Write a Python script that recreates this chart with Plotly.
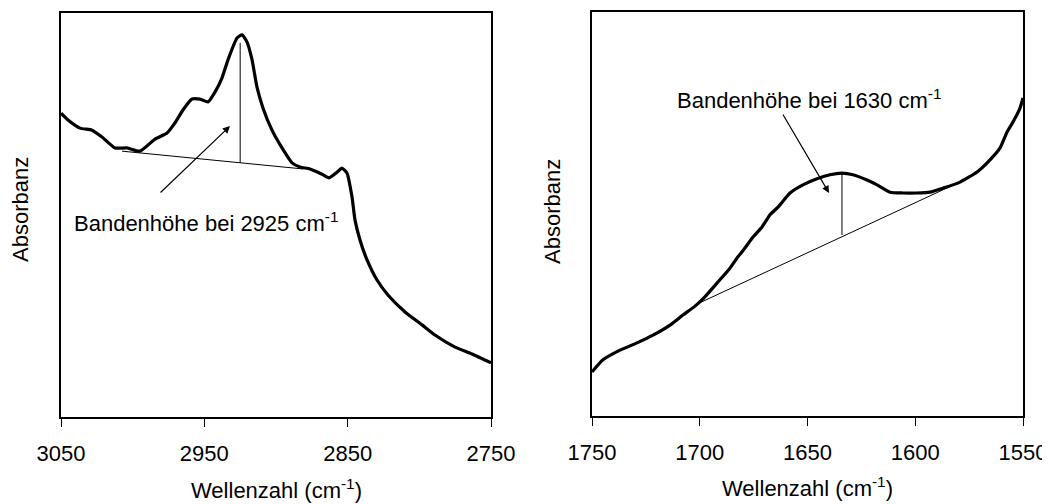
import plotly.graph_objects as go

# Left panel: C-H stretching region
left_wn = [3050, 3045.1, 3036.7, 3028.4, 3021.4, 3012.3, 3004.0, 2994.9, 2984.4, 2976.0,
           2970.5, 2964.9, 2958.6, 2953.0, 2947.4, 2942.6, 2937.7, 2933.5, 2927.2, 2923.7,
           2920.2, 2916.7, 2913.3, 2909.1, 2902.8, 2895.8, 2888.8, 2883.3, 2876.3, 2867.9,
           2863.0, 2857.4, 2854.0, 2850.5, 2847.0, 2844.9, 2841.4, 2836.5, 2829.5, 2821.9,
           2810.0, 2798.1, 2789.1, 2775.1, 2763.3, 2750]
left_abs = [0.752, 0.735, 0.715, 0.710, 0.693, 0.666, 0.666, 0.658, 0.688, 0.703,
            0.728, 0.760, 0.787, 0.787, 0.780, 0.804, 0.839, 0.884, 0.938, 0.946,
            0.928, 0.884, 0.817, 0.765, 0.710, 0.666, 0.629, 0.619, 0.614, 0.601,
            0.592, 0.606, 0.616, 0.604, 0.545, 0.488, 0.438, 0.389, 0.339, 0.302,
            0.260, 0.228, 0.203, 0.173, 0.156, 0.134]
left_base_wn = [3007.4, 2881.2]
left_base_abs = [0.658, 0.614]
left_band_wn = [2925, 2925]
left_band_abs = [0.629, 0.926]
left_arrow = {"tail": (2981.6, 0.552), "head": (2932.1, 0.720)}
left_label = "Bandenhöhe bei 2925 cm<sup>-1</sup>"
left_ticks = [3050, 2950, 2850, 2750]

# Right panel: amide / water region
right_wn = [1750.0, 1744.9, 1737.0, 1729.1, 1721.7, 1713.8, 1707.8, 1702.2, 1697.6, 1691.5,
            1686.0, 1682.7, 1679.0, 1675.3, 1671.1, 1667.4, 1663.7, 1658.1, 1652.1, 1645.6,
            1639.6, 1634.0, 1628.9, 1622.4, 1617.7, 1611.7, 1605.7, 1599.2, 1593.2, 1587.1,
            1579.2, 1571.3, 1565.3, 1560.7, 1557.4, 1554.6, 1551.4, 1550.0]
right_abs = [0.109, 0.139, 0.163, 0.181, 0.200, 0.225, 0.250, 0.272, 0.295, 0.332,
             0.366, 0.391, 0.416, 0.443, 0.468, 0.498, 0.517, 0.552, 0.572, 0.587,
             0.597, 0.601, 0.597, 0.584, 0.572, 0.554, 0.552, 0.552, 0.554, 0.564,
             0.579, 0.604, 0.634, 0.663, 0.703, 0.728, 0.762, 0.787]
right_base_wn = [1701.3, 1580.2]
right_base_abs = [0.277, 0.577]
right_band_wn = [1634, 1634]
right_band_abs = [0.448, 0.601]
right_arrow = {"tail": (1661.8, 0.750), "head": (1640.0, 0.552)}
right_label = "Bandenhöhe bei 1630 cm<sup>-1</sup>"
right_ticks = [1750, 1700, 1650, 1600, 1550]

FONT = "Liberation Sans, Arial, sans-serif"
FS = 22
OFF = 8                      # page body margin
W, H = 1050 - OFF, 504 - OFF


def px(x):
    return (x - OFF) / W


def py(y):
    return (H - (y - OFF)) / H


fig = go.Figure()
thick = dict(color="black", width=3.2, shape="spline", smoothing=0.5)
thin = dict(color="black", width=1)

fig.add_trace(go.Scatter(x=left_wn, y=left_abs, mode="lines", line=thick, xaxis="x", yaxis="y"))
fig.add_trace(go.Scatter(x=left_base_wn, y=left_base_abs, mode="lines", line=thin, xaxis="x", yaxis="y"))
fig.add_trace(go.Scatter(x=left_band_wn, y=left_band_abs, mode="lines", line=thin, xaxis="x", yaxis="y"))
fig.add_trace(go.Scatter(x=right_wn, y=right_abs, mode="lines", line=thick, xaxis="x2", yaxis="y2"))
fig.add_trace(go.Scatter(x=right_base_wn, y=right_base_abs, mode="lines", line=thin, xaxis="x2", yaxis="y2"))
fig.add_trace(go.Scatter(x=right_band_wn, y=right_band_abs, mode="lines", line=thin, xaxis="x2", yaxis="y2"))

axis_common = dict(showline=True, linecolor="black", linewidth=1.5, mirror=True,
                   showgrid=False, zeroline=False, automargin=False,
                   tickfont=dict(family=FONT, size=FS, color="black"))

fig.update_layout(
    template="none",
    width=W, height=H, showlegend=False,
    paper_bgcolor="white", plot_bgcolor="white",
    margin=dict(l=0, r=0, t=0, b=0, pad=0, autoexpand=False),
    xaxis=dict(domain=[px(61), px(491)], range=[3050, 2750], tickvals=left_ticks,
               ticks="outside", ticklen=8, tickcolor="black", tickwidth=1, ticklabelstandoff=8,
               anchor="y", **axis_common),
    yaxis=dict(domain=[py(417), py(13)], range=[0, 1], showticklabels=False,
               ticks="", anchor="x", **axis_common),
    xaxis2=dict(domain=[px(592), px(1023)], range=[1750, 1550], tickvals=right_ticks,
                ticks="outside", ticklen=8, tickcolor="black", tickwidth=1, ticklabelstandoff=8,
                anchor="y2", **axis_common),
    yaxis2=dict(domain=[py(416), py(12)], range=[0, 1], showticklabels=False,
                ticks="", anchor="x2", **axis_common),
)

af = dict(family=FONT, size=FS, color="black")
annotations = [
    # arrows
    dict(x=left_arrow["head"][0], y=left_arrow["head"][1], ax=left_arrow["tail"][0], ay=left_arrow["tail"][1],
         xref="x", yref="y", axref="x", ayref="y", showarrow=True, arrowhead=2, arrowsize=1.2,
         arrowwidth=1.2, arrowcolor="black", text=""),
    dict(x=right_arrow["head"][0], y=right_arrow["head"][1], ax=right_arrow["tail"][0], ay=right_arrow["tail"][1],
         xref="x2", yref="y2", axref="x2", ayref="y2", showarrow=True, arrowhead=2, arrowsize=1.2,
         arrowwidth=1.2, arrowcolor="black", text=""),
    # band labels
    dict(x=3042.3, y=0.483, xref="x", yref="y", text=left_label, showarrow=False,
         xanchor="left", yanchor="middle", font=af),
    dict(x=1711.5, y=0.785, xref="x2", yref="y2", text=right_label, showarrow=False,
         xanchor="left", yanchor="middle", font=af),
    # axis titles
    dict(x=px(276), y=py(489), xref="paper", yref="paper", text="Wellenzahl (cm<sup>-1</sup>)",
         showarrow=False, xanchor="center", yanchor="middle", font=af),
    dict(x=px(807), y=py(487), xref="paper", yref="paper", text="Wellenzahl (cm<sup>-1</sup>)",
         showarrow=False, xanchor="center", yanchor="middle", font=af),
    dict(x=px(20), y=py(210), xref="paper", yref="paper", text="Absorbanz", textangle=-90,
         showarrow=False, xanchor="center", yanchor="middle", font=af),
    dict(x=px(553), y=py(212), xref="paper", yref="paper", text="Absorbanz", textangle=-90,
         showarrow=False, xanchor="center", yanchor="middle", font=af),
]
fig.update_layout(annotations=annotations)

fig.write_html("out.html")
